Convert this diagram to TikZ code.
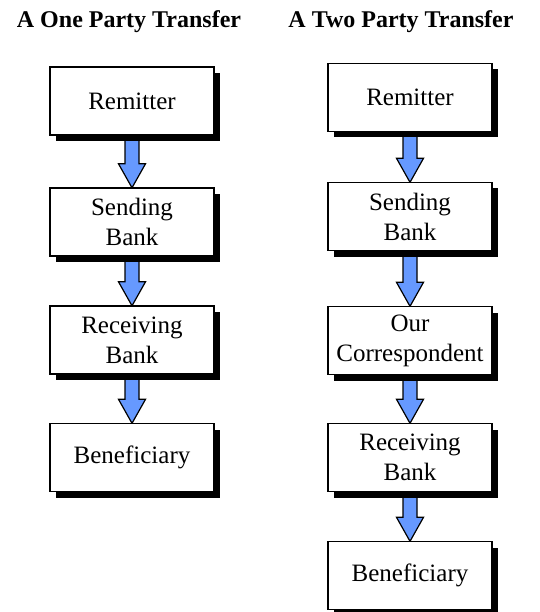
\documentclass[tikz,border=0pt]{standalone}
\usepackage{fontspec}
\setmainfont{Liberation Serif}
\usetikzlibrary{shadows}
\definecolor{arrowblue}{HTML}{6699FF}
\tikzset{
  box/.style={draw=black, line width=1.5pt, fill=white, minimum width=164pt, minimum height=68pt,
    inner sep=0pt, align=center, font=\fontsize{25}{30}\selectfont,
    drop shadow={shadow xshift=6pt, shadow yshift=-6pt, fill=black, opacity=1}},
  title/.style={anchor=base, font=\fontsize{24}{28}\selectfont\bfseries},
  flow/.style={draw=black, line width=1.2pt, fill=arrowblue, line join=miter}
}
\newcommand{\flowarrow}[2]{%
  \draw[flow] ([xshift=-7pt]#1.south) -- ([xshift=-7pt,yshift=24pt]#2.north)
    -- ([xshift=-13.5pt,yshift=24pt]#2.north) -- (#2.north)
    -- ([xshift=13.5pt,yshift=24pt]#2.north) -- ([xshift=7pt,yshift=24pt]#2.north)
    -- ([xshift=7pt]#1.south) -- cycle;}
\begin{document}
\begin{tikzpicture}[x=1pt,y=-1pt]
\useasboundingbox (0,0) rectangle (539,612);
\node[title] (t1) at (129,28) {A One Party Transfer};
\node[title] (t2) at (401,28) {A Two Party Transfer};
% invisible anchors for arrows placed before boxes
\begin{scope}[on background layer/.try]
\end{scope}
% left column coordinates
\path (132,101) coordinate (lc1) (132,222) coordinate (lc2) (132,340) coordinate (lc3) (132,457.5) coordinate (lc4);
\path (410,97.5) coordinate (rc1) (410,216.5) coordinate (rc2) (410,340.5) coordinate (rc3) (410,457.5) coordinate (rc4) (410,575.5) coordinate (rc5);
% placeholder nodes (no drawing) for arrow geometry
\foreach \c in {lc1,lc2,lc3,lc4,rc1,rc2,rc3,rc4,rc5}{
  \path (\c) node[minimum width=164pt, minimum height=68pt, inner sep=0pt] (g\c) {};
}
\flowarrow{glc1}{glc2}
\flowarrow{glc2}{glc3}
\flowarrow{glc3}{glc4}
\flowarrow{grc1}{grc2}
\flowarrow{grc2}{grc3}
\flowarrow{grc3}{grc4}
\flowarrow{grc4}{grc5}
\node[box] (l1) at (lc1) {Remitter};
\node[box] (l2) at (lc2) {Sending\\Bank};
\node[box] (l3) at (lc3) {Receiving\\Bank};
\node[box] (l4) at (lc4) {Beneficiary};
\node[box] (r1) at (rc1) {Remitter};
\node[box] (r2) at (rc2) {Sending\\Bank};
\node[box] (r3) at (rc3) {Our\\Correspondent};
\node[box] (r4) at (rc4) {Receiving\\Bank};
\node[box] (r5) at (rc5) {Beneficiary};
\end{tikzpicture}
\end{document}
